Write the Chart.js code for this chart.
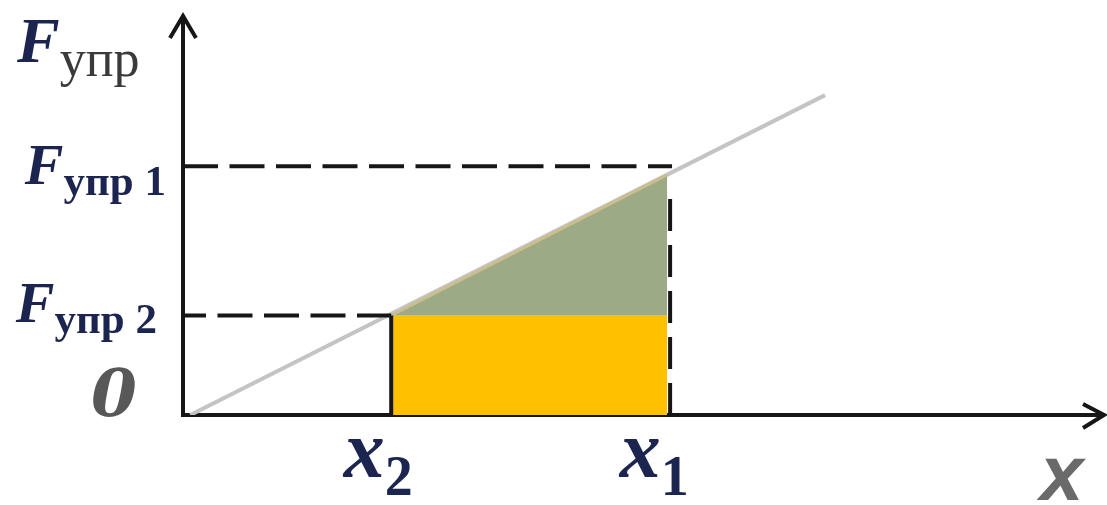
<!DOCTYPE html>
<html>
<head>
<meta charset="utf-8">
<script src="https://cdn.jsdelivr.net/npm/chart.js@4.4.1/dist/chart.umd.min.js"></script>
<style>
  html, body { margin: 0; padding: 0; background: #ffffff; }
  #wrap { width: 1107px; height: 505px; }
</style>
</head>
<body>
<div id="wrap"><canvas id="c" width="1107" height="505"></canvas></div>
<script>
// Elongation marks on the horizontal axis: x2, x1
const displacement = [4.3, 10];
const displacementSubs = ['2', '1'];
// Elastic force marks on the vertical axis: F2, F1
const force = [4, 10];
const forceSubs = ['упр 2', 'упр 1'];
// Hooke's law line, F = kx
const hookeX = [0.15, 13.26];
const hookeY = [0, 12.86];
// Force on the line at x1 (top of the shaded triangle)
const forceAtX1 = 9.65;
// Upper end of the dashed guide at x1
const guideTopX1 = 8.7;
// Axis ranges
const axisMaxX = 19;
const axisMaxY = 16;

const INK = '#161616';
const NAVY = '#1b2550';

function pts(xs, ys) { return xs.map((x, i) => ({ x: x, y: ys[i] })); }

const datasets = [
  { // Hooke's law line
    data: pts(hookeX, hookeY),
    borderColor: '#c4c4c4', borderWidth: 4, pointRadius: 0, fill: false, order: 6
  },
  { // work done by F2 over x1 - x2 (rectangle)
    data: pts([displacement[0], displacement[1]], [force[0], force[0]]),
    borderWidth: 0, borderColor: 'rgba(0,0,0,0)', backgroundColor: '#ffc000',
    pointRadius: 0, fill: 'origin', order: 5
  },
  { // extra work (triangle between the line and F2)
    data: pts([displacement[0], displacement[1]], [force[0], forceAtX1]),
    borderWidth: 3, borderColor: '#cbbd8c', backgroundColor: '#9daa86',
    pointRadius: 0, fill: { value: force[0] }, order: 4
  },
  { // dashed guide at F1
    data: pts([0, displacement[1] + 0.1], [force[1], force[1]]),
    borderColor: INK, borderWidth: 4, borderDash: [35, 11.5], borderCapStyle: 'butt',
    pointRadius: 0, fill: false, order: 2
  },
  { // dashed guide at F2
    data: pts([0, displacement[0]], [force[0], force[0]]),
    borderColor: INK, borderWidth: 4, borderDash: [35, 11.5], borderDashOffset: 12,
    borderCapStyle: 'butt', pointRadius: 0, fill: false, order: 2
  },
  { // guide at x1
    data: pts([displacement[1] + 0.06, displacement[1] + 0.06], [0, guideTopX1]),
    borderColor: INK, borderWidth: 4, borderDash: [32, 14], borderCapStyle: 'butt',
    pointRadius: 0, fill: false, order: 2
  },
  { // guide at x2
    data: pts([displacement[0], displacement[0]], [0, force[0]]),
    borderColor: INK, borderWidth: 4, borderCapStyle: 'butt',
    pointRadius: 0, fill: false, order: 2
  }
];

function drawSub(ctx, x, y, main, mainFont, mainColor, sub, subFont, subColor, subDy, align) {
  ctx.font = mainFont;
  const wMain = ctx.measureText(main).width;
  ctx.font = subFont;
  const wSub = ctx.measureText(sub).width;
  let left = x;
  if (align === 'right') left = x - wMain - wSub;
  if (align === 'center') left = x - (wMain + wSub) / 2;
  ctx.textAlign = 'left';
  ctx.textBaseline = 'alphabetic';
  ctx.font = mainFont; ctx.fillStyle = mainColor;
  ctx.fillText(main, left, y);
  ctx.font = subFont; ctx.fillStyle = subColor;
  ctx.fillText(sub, left + wMain, y + subDy);
}

const axesAndLabels = {
  id: 'axesAndLabels',
  afterDraw(chart) {
    const ctx = chart.ctx;
    const xs = chart.scales.x, ys = chart.scales.y;
    const left = xs.left, bottom = ys.bottom, top = ys.top, right = xs.right;
    ctx.save();
    // arrow heads
    ctx.strokeStyle = INK; ctx.lineWidth = 4; ctx.lineJoin = 'miter'; ctx.lineCap = 'butt';
    ctx.beginPath();
    ctx.moveTo(left - 13, top + 21); ctx.lineTo(left, top - 1); ctx.lineTo(left + 13, top + 21);
    ctx.moveTo(right - 20, bottom - 11); ctx.lineTo(right + 1, bottom); ctx.lineTo(right - 20, bottom + 13);
    ctx.stroke();

    const serifBI = (s) => 'italic bold ' + s + 'px "Liberation Serif", "DejaVu Serif", serif';
    const serifB = (s) => 'bold ' + s + 'px "Liberation Serif", "DejaVu Serif", serif';
    const serif = (s) => s + 'px "Liberation Serif", "DejaVu Serif", serif';

    // vertical axis title
    drawSub(ctx, 17, 62, 'F', serifBI(64), NAVY, 'упр', serif(52), '#3a3a3a', 14, 'left');

    // force marks
    const fOff = [{ dy: 6, sdy: 11, gap: 26 }, { dy: 18, sdy: 11, gap: 17 }];
    force.forEach((f, i) => {
      const py = ys.getPixelForValue(f);
      drawSub(ctx, left - fOff[i].gap, py + fOff[i].dy, 'F', serifBI(58), NAVY,
        forceSubs[i], serifB(43), NAVY, fOff[i].sdy, 'right');
    });

    // origin
    ctx.font = 'italic bold 66px "DejaVu Serif", "Liberation Serif", serif';
    ctx.fillStyle = '#585858';
    ctx.textAlign = 'right'; ctx.textBaseline = 'alphabetic';
    ctx.fillText('0', left - 46, bottom + 1);

    // displacement marks
    displacement.forEach((d, i) => {
      const px = xs.getPixelForValue(d);
      drawSub(ctx, px - 13, bottom + 62, 'x', serifBI(82), NAVY,
        displacementSubs[i], serifB(56), NAVY, 18, 'center');
    });

    // horizontal axis title
    ctx.font = 'italic bold 78px "Liberation Sans", "DejaVu Sans", sans-serif';
    ctx.fillStyle = '#6a6a6a'; ctx.textAlign = 'left';
    ctx.fillText('x', 1040, 500);
    ctx.restore();
  }
};

new Chart(document.getElementById('c'), {
  type: 'line',
  data: { datasets: datasets },
  options: {
    responsive: false,
    animation: false,
    events: [],
    layout: { padding: { left: 183, top: 17, right: 4, bottom: 90 } },
    plugins: { legend: { display: false }, tooltip: { enabled: false } },
    scales: {
      x: {
        type: 'linear', min: 0, max: axisMaxX,
        ticks: { display: false },
        grid: { display: false, drawTicks: false },
        border: { display: true, color: INK, width: 4 }
      },
      y: {
        type: 'linear', min: 0, max: axisMaxY,
        ticks: { display: false },
        grid: { display: false, drawTicks: false },
        border: { display: true, color: INK, width: 4 }
      }
    }
  },
  plugins: [axesAndLabels]
});
</script>
</body>
</html>
